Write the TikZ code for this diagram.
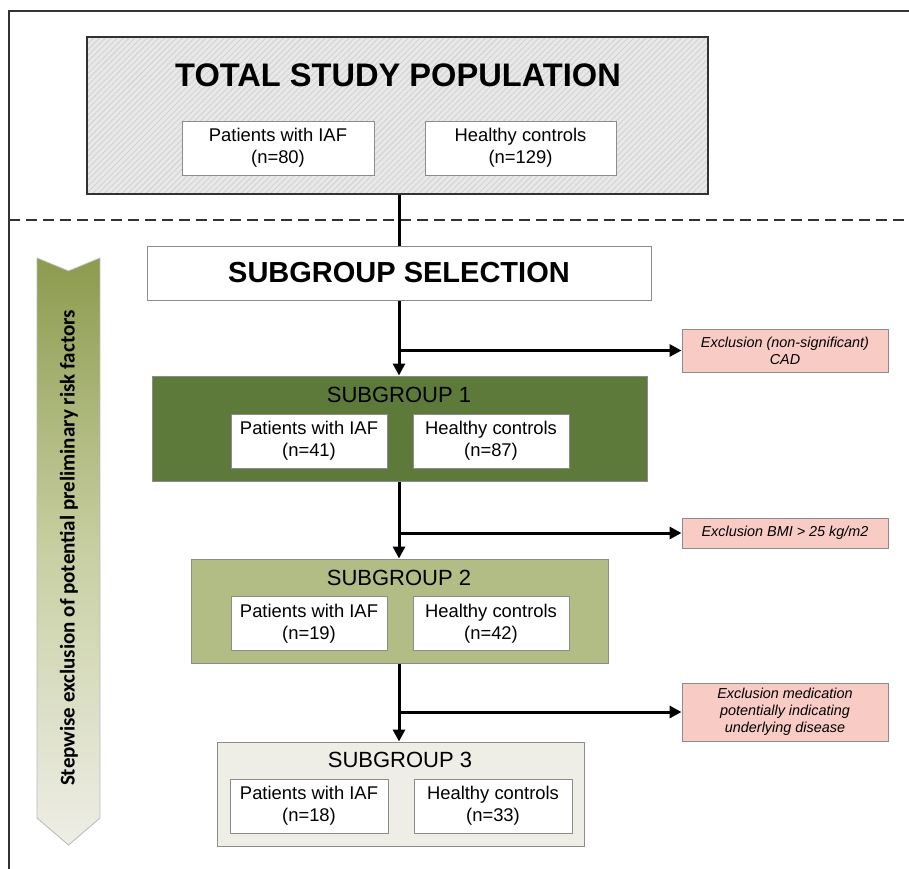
\documentclass[tikz,border=0pt]{standalone}
\usepackage{fontspec}
\setmainfont{Liberation Sans}
\newfontfamily\calib{Carlito}
\usetikzlibrary{arrows.meta,patterns.meta}
\definecolor{sgone}{RGB}{93,122,58}
\definecolor{sgtwo}{RGB}{178,189,134}
\definecolor{sgthree}{RGB}{238,238,230}
\definecolor{pinkex}{RGB}{248,204,196}
\definecolor{topgray}{RGB}{232,232,232}
\definecolor{hatchgray}{RGB}{210,210,210}
\definecolor{olivetop}{RGB}{140,155,78}
\definecolor{olivemid}{RGB}{200,207,162}
\definecolor{framegray}{RGB}{50,50,50}
\definecolor{boxgray}{RGB}{140,140,140}
\begin{document}
\begin{tikzpicture}[x=1pt,y=-1pt,
  inbox/.style={draw=boxgray, line width=1pt, fill=white, minimum width=156pt, minimum height=54pt, align=center, inner sep=0pt, font=\fontsize{18.4}{22}\selectfont},
  grp/.style={draw=boxgray, line width=1pt, inner sep=0pt},
  grptitle/.style={font=\fontsize{22}{26}\selectfont, inner sep=0pt},
  pinkbox/.style={draw=boxgray, fill=pinkex, line width=1pt, minimum width=206pt, align=center, inner sep=0pt, font=\fontsize{14.4}{17}\selectfont\itshape},
  conn/.style={line width=3pt, black},
  arr/.style={conn, -{Triangle[length=12pt,width=12pt]}}]
\useasboundingbox (0,0) rectangle (909,868);
\clip (0,0) rectangle (909,868);
\fill[white] (0,0) rectangle (909,868);
% frame and separator
\draw[framegray, line width=1.5pt] (9,900) -- (9,11) -- (930,11);
\draw[framegray, line width=1.5pt, dash pattern=on 11pt off 6pt] (9,220) -- (915,220);
% top box
\node[draw=framegray, line width=2pt, minimum width=621pt, minimum height=157pt, inner sep=0pt,
  preaction={fill=topgray},
  preaction={pattern={Lines[angle=45,distance=4.2pt,line width=0.9pt]}, pattern color=hatchgray}] (top) at (397.5,115.5) {};
\node[font=\bfseries\fontsize{32.6}{36}\selectfont, inner sep=0pt] (toptitle) at (398,75) {TOTAL STUDY POPULATION};
\node[inbox, minimum width=192pt] (tp) at (278,148) {Patients with IAF\\(n=80)};
\node[inbox, minimum width=191pt] (th) at (520.5,148) {Healthy controls\\(n=129)};
% subgroup selection
\node[grp, draw=boxgray, fill=white, minimum width=504pt, minimum height=54pt] (sel) at (399,273) {};
\node[font=\bfseries\fontsize{29}{32}\selectfont, inner sep=0pt] (seltitle) at (399,273) {SUBGROUP SELECTION};
% subgroup 1
\node[grp, fill=sgone, minimum width=495pt, minimum height=105pt] (s1) at (399.5,428.5) {};
\node[grptitle] (s1t) at (399,395) {SUBGROUP 1};
\node[inbox] (s1p) at (309,441) {Patients with IAF\\(n=41)};
\node[inbox] (s1h) at (491,441) {Healthy controls\\(n=87)};
% subgroup 2
\node[grp, fill=sgtwo, minimum width=417pt, minimum height=104pt] (s2) at (399.5,611) {};
\node[grptitle] (s2t) at (399,578) {SUBGROUP 2};
\node[inbox] (s2p) at (309,623.5) {Patients with IAF\\(n=19)};
\node[inbox] (s2h) at (491,623.5) {Healthy controls\\(n=42)};
% subgroup 3
\node[grp, fill=sgthree, minimum width=367pt, minimum height=104pt] (s3) at (400.5,794) {};
\node[grptitle] (s3t) at (400,760) {SUBGROUP 3};
\node[inbox, minimum width=158pt] (s3p) at (309,806) {Patients with IAF\\(n=18)};
\node[inbox, minimum width=158pt] (s3h) at (493,806) {Healthy controls\\(n=33)};
% exclusion boxes
\node[pinkbox, minimum height=43pt] (x1) at (785,350.5) {Exclusion (non-significant)\\CAD};
\node[pinkbox, minimum height=30pt] (x2) at (785,533) {Exclusion BMI > 25 kg/m2};
\node[pinkbox, minimum height=58pt] (x3) at (785,712) {Exclusion medication\\potentially indicating\\underlying disease};
% connectors
\coordinate (spine) at (399,0);
\draw[conn] (spine |- top.south) -- (spine |- sel.north);
\draw[arr] (spine |- sel.south) -- (spine |- s1.north);
\draw[arr] (spine |- x1.west) -- (x1.west);
\draw[arr] (spine |- s1.south) -- (spine |- s2.north);
\draw[arr] (spine |- x2.west) -- (x2.west);
\draw[arr] (spine |- s2.south) -- (spine |- s3.north);
\draw[arr] (spine |- x3.west) -- (x3.west);
% left chevron arrow
\path[draw=gray!55, line width=0.8pt, top color=olivetop, bottom color=sgthree, middle color=olivemid]
  (37,258) -- (68.5,271) -- (100,258) -- (100,818) -- (68.5,845) -- (37,818) -- cycle;
\node[rotate=90, font=\calib\bfseries\fontsize{21}{24}\selectfont, inner sep=0pt] (steptxt) at (69,548) {Stepwise exclusion of potential preliminary risk factors};
\end{tikzpicture}
\end{document}
